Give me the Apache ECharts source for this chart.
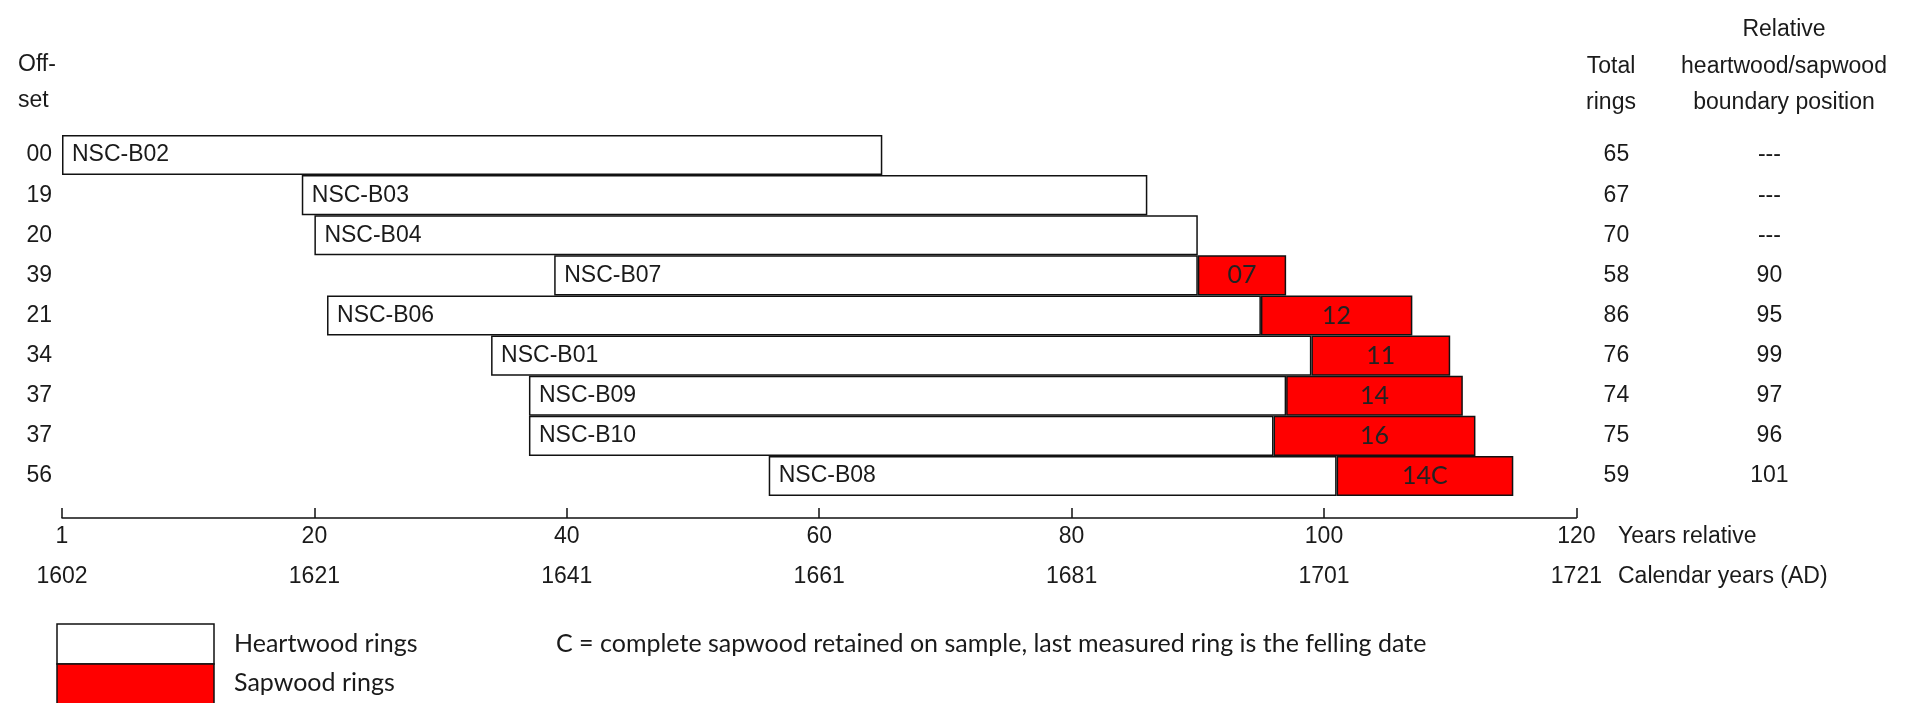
<!DOCTYPE html>
<html>
<head>
<meta charset="utf-8">
<script src="https://cdn.jsdelivr.net/npm/echarts@6/dist/echarts.min.js"></script>
<style>
html,body{margin:0;padding:0;background:#fff;}
#chart{width:1906px;height:703px;}
</style>
</head>
<body>
<div id="chart"></div>
<script>
// ---- data ----
const samples = ['NSC-B02','NSC-B03','NSC-B04','NSC-B07','NSC-B06','NSC-B01','NSC-B09','NSC-B10','NSC-B08'];
const offsets = [0,19,20,39,21,34,37,37,56];
const totalRings = [65,67,70,58,86,76,74,75,59];
const sapwoodRings = [0,0,0,7,12,11,14,16,14];
const sapwoodLabels = ['','','','07','12','11','14','16','14C'];
const boundaryLabels = ['---','---','---','90','95','99','97','96','101'];
const relTickLabels = ['1','20','40','60','80','100','120'];
const calTickLabels = ['1602','1621','1641','1661','1681','1701','1721'];
const legendNames = ['Heartwood rings','Sapwood rings'];
const noteText = 'C = complete sapwood retained on sample, last measured ring is the felling date';

// ---- derived series ----
const heartwood = totalRings.map((t,i)=>t - sapwoodRings[i]);
const sapwood = sapwoodRings.map(s=> s > 0 ? s : null);
const offsetLabels = offsets.map(o=>String(o).padStart(2,'0'));

const FONT = '"Liberation Sans", Arial, sans-serif';
const FONT2 = 'Lato, "Open Sans", sans-serif';
const TXT = '#1a1a1a';
const HEART = '#ffffff', SAP = '#ff0000', EDGE = '#111';

const chart = echarts.init(document.getElementById('chart'), null, {renderer:'canvas'});

const catAxisBase = {
  type:'category', data:samples, inverse:true,
  axisLine:{show:false}, axisTick:{show:false}, splitLine:{show:false}
};

const option = {
  backgroundColor:'#fff',
  animation:false,
  grid:{left:62, top:135, width:1514.4, height:361, containLabel:false},
  xAxis:{
    type:'value', min:0, max:120, interval:20, offset:22,
    axisLine:{show:true, lineStyle:{color:EDGE, width:1.5}},
    axisTick:{show:true, inside:true, length:10, lineStyle:{color:EDGE, width:1.5}},
    splitLine:{show:false},
    axisLabel:{
      margin:-1,
      formatter:(v)=>{const i=Math.round(v/20); return '{r|'+relTickLabels[i]+'}\n{c|'+calTickLabels[i]+'}';},
      rich:{
        r:{fontFamily:FONT, fontSize:23, color:TXT, lineHeight:40, align:'center'},
        c:{fontFamily:FONT, fontSize:23, color:TXT, lineHeight:40, align:'center'}
      }
    }
  },
  yAxis:[
    Object.assign({}, catAxisBase, {
      position:'left',
      axisLabel:{margin:10, fontFamily:FONT, fontSize:23, color:TXT, formatter:(v,i)=>offsetLabels[i]}
    }),
    Object.assign({}, catAxisBase, {
      position:'right',
      axisLabel:{margin:40, align:'center', fontFamily:FONT, fontSize:23, color:TXT, formatter:(v,i)=>String(totalRings[i])}
    }),
    Object.assign({}, catAxisBase, {
      position:'right', offset:0,
      axisLabel:{margin:193, align:'center', fontFamily:FONT, fontSize:23, color:TXT, formatter:(v,i)=>boundaryLabels[i]}
    })
  ],
  series:[
    {
      name:'base', type:'bar', stack:'r', silent:true,
      data:offsets, barWidth:'100%',
      itemStyle:{color:'rgba(0,0,0,0)', borderWidth:0}
    },
    {
      name:legendNames[0], type:'bar', stack:'r',
      data:heartwood, barWidth:'100%',
      itemStyle:{color:HEART, borderColor:EDGE, borderWidth:1.5},
      label:{show:true, position:'insideLeft', distance:10, fontFamily:FONT, fontSize:23, color:TXT,
        formatter:(p)=>samples[p.dataIndex]}
    },
    {
      name:legendNames[1], type:'bar', stack:'r',
      data:sapwood, barWidth:'100%',
      itemStyle:{color:SAP, borderColor:EDGE, borderWidth:1.5},
      label:{show:true, position:'inside', fontFamily:FONT2, fontSize:25, color:'#222',
        formatter:(p)=>sapwoodLabels[p.dataIndex]}
    }
  ],
  graphic:[
    {type:'text', left:18, top:53, style:{text:'Off-', font:'23px '+FONT, fill:TXT}},
    {type:'text', left:18, top:89, style:{text:'set', font:'23px '+FONT, fill:TXT}},
    {type:'text', x:1611, y:67, style:{text:'Total', font:'23px '+FONT, fill:TXT, align:'center', verticalAlign:'middle'}},
    {type:'text', x:1611, y:103, style:{text:'rings', font:'23px '+FONT, fill:TXT, align:'center', verticalAlign:'middle'}},
    {type:'text', x:1784, y:30, style:{text:'Relative', font:'23px '+FONT, fill:TXT, align:'center', verticalAlign:'middle'}},
    {type:'text', x:1784, y:67, style:{text:'heartwood/sapwood', font:'23px '+FONT, fill:TXT, align:'center', verticalAlign:'middle'}},
    {type:'text', x:1784, y:103, style:{text:'boundary position', font:'23px '+FONT, fill:TXT, align:'center', verticalAlign:'middle'}},
    {type:'text', x:1618, y:537, style:{text:'Years relative', font:'23px '+FONT, fill:TXT, align:'left', verticalAlign:'middle'}},
    {type:'text', x:1618, y:577, style:{text:'Calendar years (AD)', font:'23px '+FONT, fill:TXT, align:'left', verticalAlign:'middle'}},
    // legend
    {type:'rect', shape:{x:57, y:624, width:157, height:40}, style:{fill:HEART, stroke:EDGE, lineWidth:1.5}},
    {type:'rect', shape:{x:57, y:664, width:157, height:42}, style:{fill:SAP, stroke:EDGE, lineWidth:1.5}},
    {type:'text', x:234, y:644, style:{text:legendNames[0], font:'25px '+FONT2, fill:TXT, align:'left', verticalAlign:'middle'}},
    {type:'text', x:234, y:683, style:{text:legendNames[1], font:'25px '+FONT2, fill:TXT, align:'left', verticalAlign:'middle'}},
    {type:'text', x:556, y:644, style:{text:noteText, font:'25px '+FONT2, fill:TXT, align:'left', verticalAlign:'middle'}}
  ]
};
chart.setOption(option);
</script>
</body>
</html>
